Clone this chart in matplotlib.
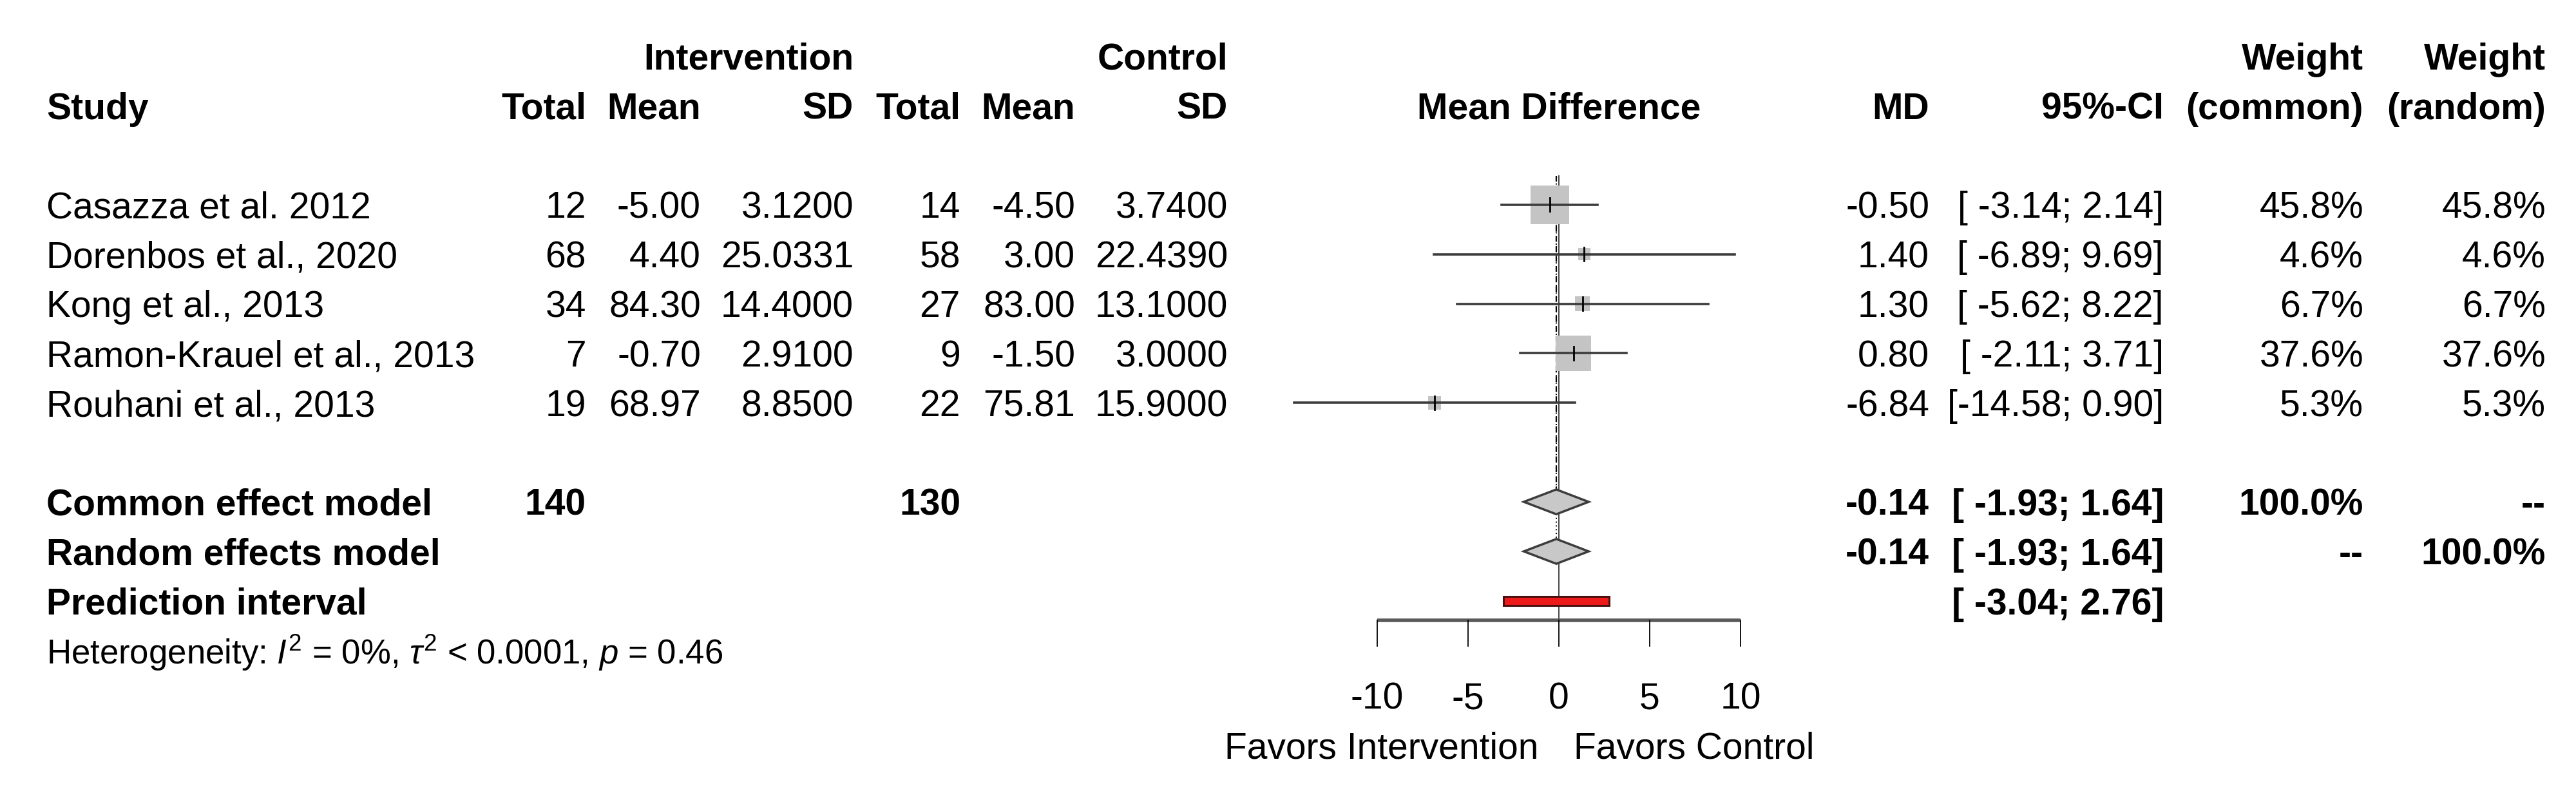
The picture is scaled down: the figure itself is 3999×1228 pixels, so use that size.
import matplotlib
matplotlib.use("Agg")
import matplotlib.pyplot as plt
from matplotlib.patches import Rectangle, Polygon

plt.rcParams['font.family'] = ['Liberation Sans', 'DejaVu Sans']
plt.rcParams['mathtext.fontset'] = 'custom'
plt.rcParams['mathtext.rm'] = 'Liberation Sans'
plt.rcParams['mathtext.it'] = 'Liberation Sans:italic'

# data
studies = ["Casazza et al. 2012", "Dorenbos et al., 2020", "Kong et al., 2013",
           "Ramon-Krauel et al., 2013", "Rouhani et al., 2013"]
n_int = [12, 68, 34, 7, 19]
mean_int = [-5.00, 4.40, 84.30, -0.70, 68.97]
sd_int = [3.12, 25.0331, 14.4, 2.91, 8.85]
n_ctl = [14, 58, 27, 9, 22]
mean_ctl = [-4.50, 3.00, 83.00, -1.50, 75.81]
sd_ctl = [3.74, 22.439, 13.1, 3.0, 15.9]
md = [-0.50, 1.40, 1.30, 0.80, -6.84]
ci_lo = [-3.14, -6.89, -5.62, -2.11, -14.58]
ci_hi = [2.14, 9.69, 8.22, 3.71, 0.90]
w_common = [45.8, 4.6, 6.7, 37.6, 5.3]
w_random = [45.8, 4.6, 6.7, 37.6, 5.3]

total_int = 140
total_ctl = 130
pooled_md = -0.14
pooled_lo = -1.93
pooled_hi = 1.64
pred_lo = -3.04
pred_hi = 2.76
ticks = [-10, -5, 0, 5, 10]

W, H = 3999, 1228
ROW0, ROWH = 87, 76.9          # pixel centre of first row, row spacing
PX0, PXU = 2420, 28.2          # pixel of MD = 0, pixels per MD unit
FS = 41
BL = 0.27                      # baseline offset (rows) below text centre

ytop = -ROW0 / ROWH
ybot = (H - ROW0) / ROWH

fig = plt.figure(figsize=(W / 100, H / 100), dpi=100)
tab = fig.add_axes([0, 0, 1, 1])
tab.set_xlim(0, W)
tab.set_ylim(ybot, ytop)
tab.axis('off')

xl, xr = -16, 12
ax = fig.add_axes([(PX0 + xl * PXU) / W, 0, (xr - xl) * PXU / W, 1])
ax.set_xlim(xl, xr)
ax.set_ylim(ybot, ytop)
ax.axis('off')


def txt(x, row, s, ha='right', bold=False, size=FS, where=tab):
    where.text(x, row + BL, s, ha=ha, va='baseline', fontsize=size,
               fontweight='bold' if bold else 'normal')


# column positions (right edges, pixels)
x_study = 72
x_nI, x_mI, x_sI = 910, 1088, 1325
x_nC, x_mC, x_sC = 1491, 1669, 1906
x_md, x_ci, x_wc, x_wr = 2995, 3359, 3669, 3952

# headers
txt(x_sI, 0, "Intervention", bold=True)
txt(x_sC, 0, "Control", bold=True)
txt(x_wc, 0, "Weight", bold=True)
txt(x_wr, 0, "Weight", bold=True)
txt(x_study, 1, "Study", ha='left', bold=True)
for x, s in [(x_nI, "Total"), (x_mI, "Mean"), (x_sI, "SD"), (x_nC, "Total"),
             (x_mC, "Mean"), (x_sC, "SD"), (x_md, "MD"), (x_ci, "95%-CI"),
             (x_wc, "(common)"), (x_wr, "(random)")]:
    txt(x, 1, s, bold=True)
txt(0, 1, "Mean Difference", ha='center', bold=True, where=ax)

# study rows
rows = [3 + i for i in range(len(studies))]
for i, r in enumerate(rows):
    txt(x_study, r, studies[i], ha='left')
    txt(x_nI, r, "%d" % n_int[i])
    txt(x_mI, r, "%.2f" % mean_int[i])
    txt(x_sI, r, "%.4f" % sd_int[i])
    txt(x_nC, r, "%d" % n_ctl[i])
    txt(x_mC, r, "%.2f" % mean_ctl[i])
    txt(x_sC, r, "%.4f" % sd_ctl[i])
    txt(x_md, r, "%.2f" % md[i])
    txt(x_ci, r, "[%6.2f;%5.2f]" % (ci_lo[i], ci_hi[i]))
    txt(x_wc, r, "%.1f%%" % w_common[i])
    txt(x_wr, r, "%.1f%%" % w_random[i])

# summary rows
r_com, r_ran, r_pred, r_het = 9, 10, 11, 12
txt(x_study, r_com, "Common effect model", ha='left', bold=True)
txt(x_nI, r_com, "%d" % total_int, bold=True)
txt(x_nC, r_com, "%d" % total_ctl, bold=True)
txt(x_md, r_com, "%.2f" % pooled_md, bold=True)
txt(x_ci, r_com, "[%6.2f;%5.2f]" % (pooled_lo, pooled_hi), bold=True)
txt(x_wc, r_com, "100.0%", bold=True)
txt(x_wr, r_com, "--", bold=True)
txt(x_study, r_ran, "Random effects model", ha='left', bold=True)
txt(x_md, r_ran, "%.2f" % pooled_md, bold=True)
txt(x_ci, r_ran, "[%6.2f;%5.2f]" % (pooled_lo, pooled_hi), bold=True)
txt(x_wc, r_ran, "--", bold=True)
txt(x_wr, r_ran, "100.0%", bold=True)
txt(x_study, r_pred, "Prediction interval", ha='left', bold=True)
txt(x_ci, r_pred, "[%6.2f;%5.2f]" % (pred_lo, pred_hi), bold=True)
txt(x_study, r_het, r"Heterogeneity: $I^2$ = 0%, $\tau^2$ < 0.0001, $p$ = 0.46",
    ha='left', size=38)

# forest
y_axis = (963 - ROW0) / ROWH
y_top = (273 - ROW0) / ROWH
ax.plot([0, 0], [y_top, y_axis], color='#222222', lw=1.2, zorder=1)
# common (dashed) and random (dotted) effect lines, nearly on top of the null line
ax.plot([pooled_md, pooled_md], [y_top, r_com - 0.25], color='black', lw=1.6,
        ls=(0, (4, 3)), zorder=1)
ax.plot([pooled_md, pooled_md], [y_top, r_ran - 0.25], color='black', lw=1.4,
        ls=(0, (1, 2)), zorder=1)

for i, r in enumerate(rows):
    side = 8.9 * w_common[i] ** 0.5
    bw, bh = side / PXU, side / ROWH
    ax.add_patch(Rectangle((md[i] - bw / 2, r - bh / 2), bw, bh,
                           facecolor='#c4c4c4', edgecolor='none', zorder=2))
    ax.plot([ci_lo[i], ci_hi[i]], [r, r], color='#3c3c3c', lw=2.6, zorder=3)
    ax.plot([md[i], md[i]], [r - 0.14, r + 0.14], color='black', lw=2.0, zorder=4)

for r in (r_com, r_ran):
    ax.add_patch(Polygon([(pooled_lo, r), (pooled_md, r - 0.25),
                          (pooled_hi, r), (pooled_md, r + 0.25)],
                         closed=True, facecolor='#c8c8c8', edgecolor='#3c3c3c',
                         lw=2.5, zorder=3))

ax.add_patch(Rectangle((pred_lo, r_pred - 0.09), pred_hi - pred_lo, 0.18,
                       facecolor='#ee1a1a', edgecolor='#4a1010', lw=2.2, zorder=3))

# x axis
ax.plot([ticks[0], ticks[-1]], [y_axis, y_axis], color='#5a5a5a', lw=4,
        solid_capstyle='butt', zorder=2)
y_tick = (1003 - ROW0) / ROWH
for t in ticks:
    ax.plot([t, t], [y_axis, y_tick], color='black', lw=1.3, zorder=2)
    ax.text(t, 13 + BL - 0.09, "%d" % t, ha='center', va='baseline', fontsize=FS)
ax.text(-1.1, 14 + BL - 0.09, "Favors Intervention", ha='right', va='baseline',
        fontsize=FS)
ax.text(0.8, 14 + BL - 0.09, "Favors Control", ha='left', va='baseline',
        fontsize=FS)

fig.savefig("out.png", dpi=100, facecolor='white')
